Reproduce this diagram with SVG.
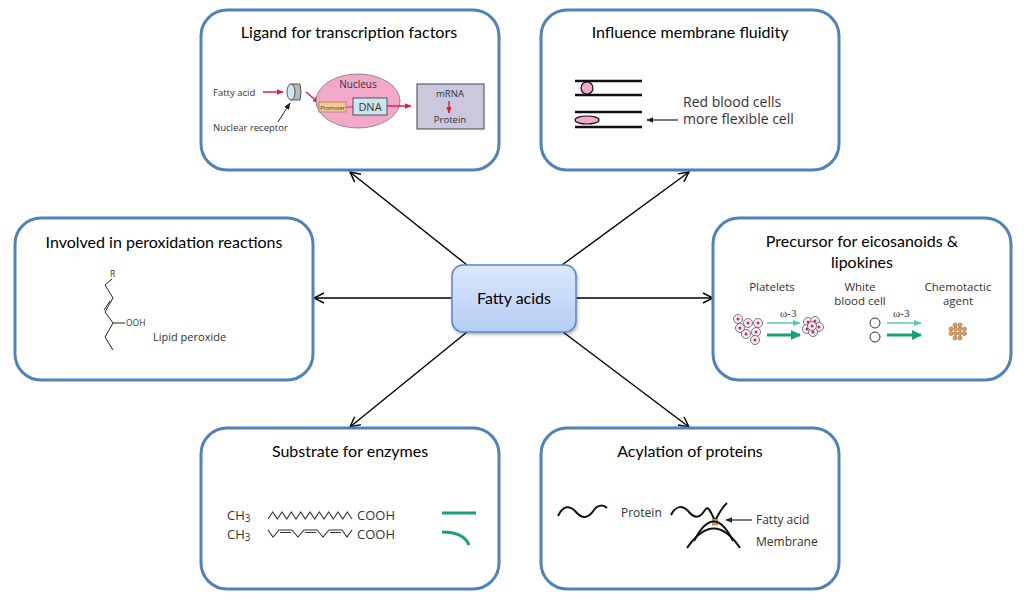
<svg xmlns="http://www.w3.org/2000/svg" width="1024" height="602" viewBox="0 0 1024 602">
<defs>
<style>
.box{fill:#fff;stroke:#4f81bd;stroke-width:3}
.title{font-family:Lato,"Liberation Sans",sans-serif;font-size:16px;fill:#000;text-anchor:middle}
.t{font-family:"Open Sans","Liberation Sans",sans-serif;fill:#333}
.conn{stroke:#000;stroke-width:1.4;fill:none;marker-end:url(#open)}
.blk{stroke:#111;fill:none}
.red{stroke:#e8194a;stroke-width:1.5;fill:none;marker-end:url(#redh)}
</style>
<marker id="open" viewBox="0 0 12 12" refX="11" refY="6" markerWidth="12" markerHeight="12" markerUnits="userSpaceOnUse" orient="auto">
<path d="M1,1 L11,6 L1,11" fill="none" stroke="#000" stroke-width="1.4"/>
</marker>
<marker id="redh" viewBox="0 0 10 10" refX="9" refY="5" markerWidth="7" markerHeight="7" markerUnits="userSpaceOnUse" orient="auto">
<path d="M0,1 L10,5 L0,9 Z" fill="#e8194a"/>
</marker>
<marker id="blkh" viewBox="0 0 10 10" refX="9" refY="5" markerWidth="7" markerHeight="7" markerUnits="userSpaceOnUse" orient="auto">
<path d="M0,1 L10,5 L0,9 Z" fill="#222"/>
</marker>
<marker id="tealh" viewBox="0 0 10 10" refX="9" refY="5" markerWidth="10" markerHeight="10" markerUnits="userSpaceOnUse" orient="auto">
<path d="M0,0 L10,5 L0,10 Z" fill="#16a37c"/>
</marker>
<marker id="ltealh" viewBox="0 0 10 10" refX="9" refY="5" markerWidth="8" markerHeight="8" markerUnits="userSpaceOnUse" orient="auto">
<path d="M0,1 L10,5 L0,9 Z" fill="#5cc9b2"/>
</marker>
<linearGradient id="cg" x1="0" y1="0" x2="0" y2="1">
<stop offset="0" stop-color="#dce8fb"/>
<stop offset="1" stop-color="#b3cdf5"/>
</linearGradient>
<filter id="sh" x="-10%" y="-10%" width="130%" height="140%">
<feDropShadow dx="1" dy="2" stdDeviation="1.5" flood-color="#000" flood-opacity="0.3"/>
</filter>
</defs>

<g id="connectors">
<line class="conn" x1="467" y1="265" x2="350" y2="172"/>
<line class="conn" x1="562" y1="265" x2="689" y2="172"/>
<line class="conn" x1="452" y1="298" x2="314" y2="298"/>
<line class="conn" x1="576" y1="298" x2="713" y2="298"/>
<line class="conn" x1="467" y1="332" x2="350" y2="427"/>
<line class="conn" x1="563" y1="332" x2="689" y2="427"/>
</g>

<g id="center">
<rect x="452" y="265" width="124" height="67" rx="11" fill="url(#cg)" stroke="#5b87c4" stroke-width="1.5" filter="url(#sh)"/>
<text x="514" y="304" class="title" font-size="17">Fatty acids</text>
</g>

<g id="ligand">
<rect class="box" x="201" y="10" width="298" height="160" rx="26"/>
<text x="349" y="38" class="title">Ligand for transcription factors</text>
<text x="213" y="96" class="t" font-size="9.5">Fatty acid</text>
<line class="red" x1="263" y1="92" x2="283" y2="92"/>
<path d="M291,84 L300,84 Q302,92 300,100 L291,100 Z" fill="#b8b8c0" stroke="#333" stroke-width="0.8"/>
<ellipse cx="291" cy="92" rx="4" ry="8" fill="#cfe8f3" stroke="#333" stroke-width="0.8"/>
<line x1="278" y1="122" x2="290" y2="103" stroke="#222" stroke-width="1" marker-end="url(#blkh)"/>
<text x="213" y="131" class="t" font-size="9.5">Nuclear receptor</text>
<line class="red" x1="306" y1="92" x2="319" y2="103"/>
<ellipse cx="358" cy="101" rx="42" ry="27" fill="#f2a9c9" stroke="#777" stroke-width="0.8"/>
<text x="358" y="88" class="t" font-size="10" text-anchor="middle">Nucleus</text>
<rect x="319" y="102" width="27" height="10" fill="#f6c98f" stroke="#8a6a3a" stroke-width="0.6"/>
<text x="332.5" y="109.5" class="t" font-size="5.5" text-anchor="middle">Promoter</text>
<line x1="346" y1="107" x2="353" y2="107" stroke="#e8194a" stroke-width="1"/>
<rect x="353" y="98" width="34" height="17" fill="#cbe6ee" stroke="#333" stroke-width="0.8"/>
<text x="370" y="111" class="t" font-size="11" text-anchor="middle">DNA</text>
<line class="red" x1="387" y1="106" x2="411" y2="106"/>
<rect x="417" y="84" width="67" height="45" fill="#c9c8dc" stroke="#444" stroke-width="1"/>
<text x="450" y="97" class="t" font-size="9.5" text-anchor="middle">mRNA</text>
<line class="red" x1="449" y1="101" x2="449" y2="113"/>
<text x="450" y="123" class="t" font-size="9.5" text-anchor="middle">Protein</text>
</g>

<g id="fluidity">
<rect class="box" x="541" y="10" width="298" height="160" rx="26"/>
<text x="690" y="38" class="title">Influence membrane fluidity</text>
<g stroke="#111" stroke-width="2.5">
<line x1="575" y1="81" x2="642" y2="81"/>
<line x1="575" y1="95" x2="642" y2="95"/>
<line x1="575" y1="112" x2="642" y2="112"/>
<line x1="575" y1="127" x2="642" y2="127"/>
</g>
<circle cx="587" cy="88" r="6" fill="#f2a9c9" stroke="#111" stroke-width="1.2"/>
<ellipse cx="587" cy="120" rx="12" ry="4" fill="#f2a9c9" stroke="#111" stroke-width="1.2"/>
<line x1="678" y1="120" x2="647" y2="120" stroke="#222" stroke-width="1.2" marker-end="url(#blkh)"/>
<text x="683" y="107" class="t" font-size="14">Red blood cells</text>
<text x="683" y="124" class="t" font-size="14">more flexible cell</text>
</g>

<g id="peroxidation">
<rect class="box" x="15" y="218" width="298" height="162" rx="26"/>
<text x="164" y="248" class="title">Involved in peroxidation reactions</text>
<text x="110" y="277" class="t" font-size="8.5">R</text>
<path d="M112,279 L105,285 L113,298 L105,312 L113,323 L105,337 L113,350" stroke="#222" stroke-width="1" fill="none"/>
<line x1="110" y1="301" x2="104" y2="310" stroke="#222" stroke-width="1"/>
<line x1="113" y1="323" x2="125" y2="323" stroke="#222" stroke-width="1"/>
<text x="126" y="326" class="t" font-size="8.5">OOH</text>
<text x="153" y="341" class="t" font-size="11">Lipid peroxide</text>
</g>

<g id="eicosanoids">
<rect class="box" x="713" y="218" width="298" height="162" rx="26"/>
<text x="862" y="247" class="title">Precursor for eicosanoids &amp;</text>
<text x="862" y="268" class="title">lipokines</text>
<g class="t" font-size="11.5" text-anchor="middle">
<text x="772" y="291">Platelets</text>
<text x="860" y="291">White</text>
<text x="860" y="305">blood cell</text>
<text x="958" y="291">Chemotactic</text>
<text x="958" y="305">agent</text>
</g>
<g fill="#f2f0f0" stroke="#555" stroke-width="0.8">
<circle cx="738" cy="319" r="4.5"/><circle cx="748" cy="323" r="4.5"/><circle cx="758" cy="323" r="4.5"/>
<circle cx="740" cy="328" r="4.5"/><circle cx="756" cy="332" r="4.5"/><circle cx="746" cy="334" r="4.5"/>
<circle cx="755" cy="340" r="4.5"/>
<circle cx="808" cy="322" r="4.5"/><circle cx="815" cy="321" r="4.5"/><circle cx="819" cy="327" r="4.5"/>
<circle cx="807" cy="329" r="4.5"/><circle cx="813" cy="332" r="4.5"/><circle cx="812" cy="326" r="4.5"/>
</g>
<g fill="#e0197a">
<circle cx="738" cy="319" r="1.5"/><circle cx="748" cy="323" r="1.5"/><circle cx="758" cy="323" r="1.5"/>
<circle cx="740" cy="328" r="1.5"/><circle cx="756" cy="332" r="1.5"/><circle cx="746" cy="334" r="1.5"/>
<circle cx="755" cy="340" r="1.5"/>
<circle cx="808" cy="322" r="1.5"/><circle cx="815" cy="321" r="1.5"/><circle cx="819" cy="327" r="1.5"/>
<circle cx="807" cy="329" r="1.5"/><circle cx="813" cy="332" r="1.5"/><circle cx="812" cy="326" r="1.5"/>
</g>
<text x="780" y="317" font-family="'Liberation Serif',serif" font-size="11" fill="#333">ω-3</text>
<line x1="767" y1="323" x2="800" y2="323" stroke="#5cc9b2" stroke-width="1.5" marker-end="url(#ltealh)"/>
<line x1="767" y1="335" x2="800" y2="335" stroke="#16a37c" stroke-width="3" marker-end="url(#tealh)"/>
<circle cx="875" cy="323" r="5" fill="#fff" stroke="#333" stroke-width="1"/>
<circle cx="875" cy="337" r="5" fill="#fff" stroke="#333" stroke-width="1"/>
<text x="893" y="317" font-family="'Liberation Serif',serif" font-size="11" fill="#333">ω-3</text>
<line x1="887" y1="323" x2="921" y2="323" stroke="#5cc9b2" stroke-width="1.5" marker-end="url(#ltealh)"/>
<line x1="887" y1="335" x2="921" y2="335" stroke="#16a37c" stroke-width="3" marker-end="url(#tealh)"/>
<g fill="#dba263" stroke="#9a6630" stroke-width="0.6">
<circle cx="955" cy="325" r="2"/><circle cx="960" cy="325" r="2"/>
<circle cx="951" cy="329" r="2"/><circle cx="955.5" cy="329" r="2"/><circle cx="960" cy="329" r="2"/><circle cx="964.5" cy="329" r="2"/>
<circle cx="951" cy="333.5" r="2"/><circle cx="955.5" cy="333.5" r="2"/><circle cx="960" cy="333.5" r="2"/><circle cx="964.5" cy="333.5" r="2"/>
<circle cx="955" cy="338" r="2"/><circle cx="960" cy="338" r="2"/>
</g>
</g>

<g id="substrate">
<rect class="box" x="201" y="428" width="298" height="161" rx="26"/>
<text x="350" y="457" class="title">Substrate for enzymes</text>
<text x="227" y="520" class="t" font-size="13">CH<tspan font-size="10" dy="2">3</tspan></text>
<path d="M268,519 L272.7,512 L277.3,519 L282,512 L286.7,519 L291.3,512 L296,519 L300.7,512 L305.3,519 L310,512 L314.7,519 L319.3,512 L324,519 L328.7,512 L333.3,519 L338,512 L342.7,519 L347.3,512 L352,519" stroke="#333" stroke-width="1.1" fill="none"/>
<text x="357" y="520" class="t" font-size="13">COOH</text>
<text x="227" y="539" class="t" font-size="13">CH<tspan font-size="10" dy="2">3</tspan></text>
<path d="M268,530 L273,537 L279,530 L292,530 L298,537 L304,530 L317,530 L323,537 L329,530 L342,530 L347,537 L352,530" stroke="#333" stroke-width="1.1" fill="none"/>
<g stroke="#333" stroke-width="1"><line x1="280" y1="532.5" x2="291" y2="532.5"/><line x1="305" y1="532.5" x2="316" y2="532.5"/><line x1="330" y1="532.5" x2="341" y2="532.5"/></g>
<text x="357" y="539" class="t" font-size="13">COOH</text>
<line x1="442" y1="513" x2="476" y2="513" stroke="#16a37c" stroke-width="3"/>
<path d="M442,532 Q464,532 469,545" stroke="#16a37c" stroke-width="3" fill="none"/>
</g>

<g id="acylation">
<rect class="box" x="541" y="428" width="298" height="161" rx="26"/>
<text x="690" y="457" class="title">Acylation of proteins</text>
<path d="M558,516 C563,505 570,505 576,512 C582,519 588,519 594,510 C598,504 604,505 607,508" stroke="#111" stroke-width="2" fill="none"/>
<text x="621" y="517" class="t" font-size="12">Protein</text>
<path d="M671,515 C676,505 683,505 689,512 C695,519 700,518 705,510 C708,505 711,512 715,521 C719,513 722,507 727,503" stroke="#111" stroke-width="2" fill="none"/>
<rect x="712.5" y="519" width="5" height="6" fill="#e8a14b" stroke="#8a5a20" stroke-width="0.5"/>
<path d="M694,541 Q714,502 733,541" stroke="#111" stroke-width="2" fill="none"/>
<path d="M687,548 Q714,509 740,548" stroke="#111" stroke-width="2" fill="none"/>
<line x1="752" y1="520" x2="726" y2="520" stroke="#222" stroke-width="1.2" marker-end="url(#blkh)"/>
<text x="756" y="524" class="t" font-size="12">Fatty acid</text>
<text x="756" y="546" class="t" font-size="12">Membrane</text>
</g>
</svg>
